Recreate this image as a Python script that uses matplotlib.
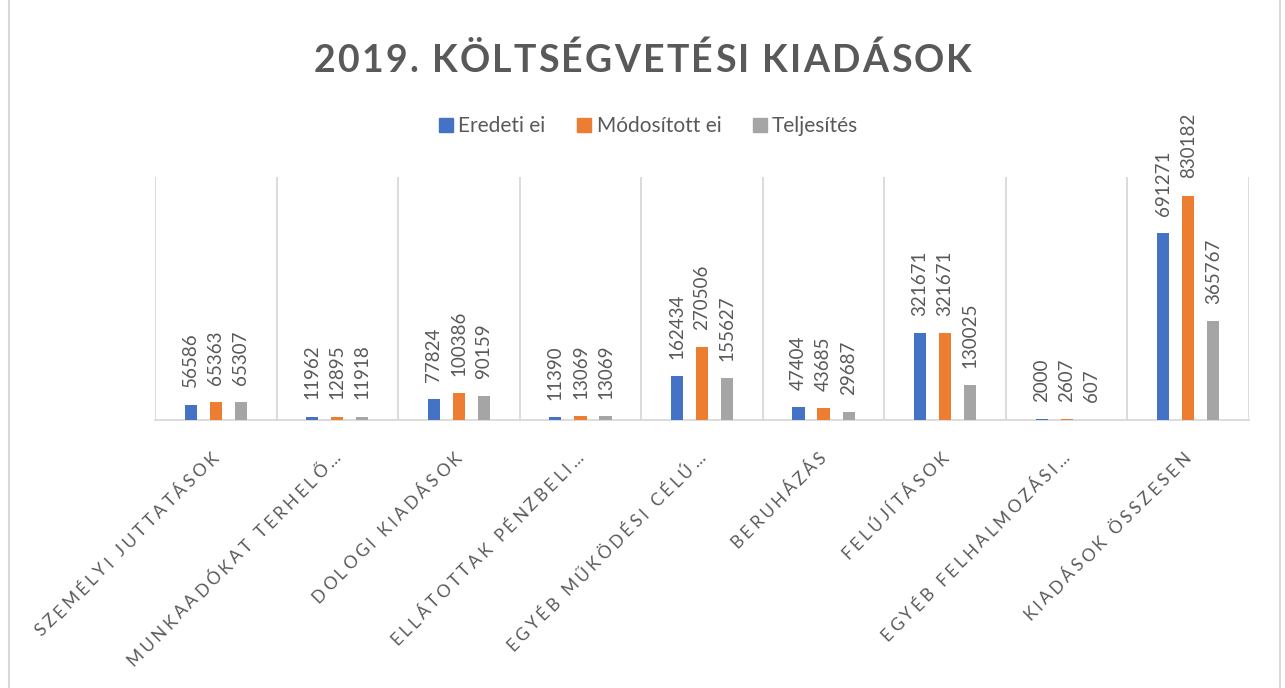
import matplotlib
matplotlib.use("Agg")
import matplotlib.pyplot as plt
import numpy as np
from matplotlib.lines import Line2D
from matplotlib.font_manager import FontProperties, findfont, get_font

categories = ["SZEMÉLYI JUTTATÁSOK", "MUNKAADÓKAT TERHELŐ…", "DOLOGI KIADÁSOK",
              "ELLÁTOTTAK PÉNZBELI…", "EGYÉB MŰKÖDÉSI CÉLÚ…", "BERUHÁZÁS",
              "FELÚJÍTÁSOK", "EGYÉB FELHALMOZÁSI…", "KIADÁSOK ÖSSZESEN"]
eredeti = [56586, 11962, 77824, 11390, 162434, 47404, 321671, 2000, 691271]
modositott = [65363, 12895, 100386, 13069, 270506, 43685, 321671, 2607, 830182]
teljesites = [65307, 11918, 90159, 13069, 155627, 29687, 130025, 607, 365767]
series_names = ["Eredeti ei", "Módosított ei", "Teljesítés"]
colors = ["#4472C4", "#ED7D31", "#A5A5A5"]
title = "2019. KÖLTSÉGVETÉSI KIADÁSOK"

W, H, DPI = 1285, 688, 100
FAM = ["Lato", "DejaVu Sans"]
TXT = "#595959"

fig = plt.figure(figsize=(W / DPI, H / DPI), dpi=DPI)
ax = fig.add_axes([155 / W, 1 - 420 / H, (1249 - 155) / W, (420 - 177) / H])


def advances(s, size, weight="normal"):
    fp = FontProperties(family="Lato", weight=weight)
    font = get_font(findfont(fp))
    font.set_size(size, DPI)
    return [font.load_char(ord(c)).linearHoriAdvance / 65536.0 for c in s]


def spaced_text(s, end_x, end_y, size, tracking, angle=0.0, weight="normal",
                anchor="end"):
    """Draw letter-spaced text along a direction; (end_x, end_y) in image px."""
    adv = advances(s, size, weight)
    total = sum(adv) + tracking * (len(s) - 1)
    a = np.deg2rad(angle)
    d = np.array([np.cos(a), -np.sin(a)])  # image coords (y down)
    if anchor == "end":
        start = np.array([end_x, end_y]) - d * total
    else:  # center
        start = np.array([end_x, end_y]) - d * total / 2
    pos = 0.0
    for ch, w in zip(s, adv):
        p = start + d * pos
        fig.text(p[0] / W, 1 - p[1] / H, ch, rotation=angle,
                 rotation_mode="anchor", ha="left", va="baseline",
                 fontsize=size, fontweight=weight, color=TXT, family=FAM)
        pos += w + tracking


x = np.arange(len(categories))
width = 0.1
offs = [-0.206, 0.0, 0.206]
for vals, off, col in zip([eredeti, modositott, teljesites], offs, colors):
    bars = ax.bar(x + off, vals, width=width, color=col, zorder=3)
    for b, v in zip(bars, vals):
        ax.annotate(str(v), (b.get_x() + b.get_width() / 2, b.get_height()),
                    xytext=(0, 12.5), textcoords="offset points", rotation=90,
                    ha="center", va="bottom", fontsize=13.5, color=TXT,
                    family=FAM, annotation_clip=False)

ax.set_xlim(-0.5, len(categories) - 0.5)
ax.set_ylim(0, 900000)
ax.set_yticks([])
ax.set_xticks([])
ax.set_xticks(np.arange(len(categories) + 1) - 0.5, minor=True)
ax.tick_params(axis="x", which="minor", length=0, labelbottom=False)
ax.grid(True, which="minor", axis="x", color="#D9D9D9", linewidth=1.3, zorder=0)
for s in ["top", "right", "left"]:
    ax.spines[s].set_visible(False)
ax.spines["bottom"].set_color("#D9D9D9")
ax.spines["bottom"].set_linewidth(1.3)

# category labels (rotated 45°, letter-spaced), ending near each category centre
fig.canvas.draw()
for i, c in enumerate(categories):
    cx_disp = ax.transData.transform((x[i], 0))[0]
    spaced_text(c, cx_disp + 4, 459, 12.5, 3.2, angle=45)

# title
spaced_text(title, 642.5, 72, 27, 2.2, angle=0, weight="bold", anchor="center")

handles = [Line2D([], [], marker="s", linestyle="none", markersize=9.4,
                  markerfacecolor=c, markeredgecolor=c) for c in colors]
fig.legend(handles, series_names, loc="center", bbox_to_anchor=(648 / W, 1 - 126 / H),
           ncol=3, frameon=False, handlelength=0.8, handletextpad=0.2,
           columnspacing=1.45, prop={"family": FAM, "size": 15},
           labelcolor=TXT)

# chart border
for xb in (9, 1280):
    fig.add_artist(Line2D([xb / W, xb / W], [0, 1], transform=fig.transFigure,
                          color="#D9D9D9", linewidth=1.5))

fig.savefig("out.png", dpi=DPI)
